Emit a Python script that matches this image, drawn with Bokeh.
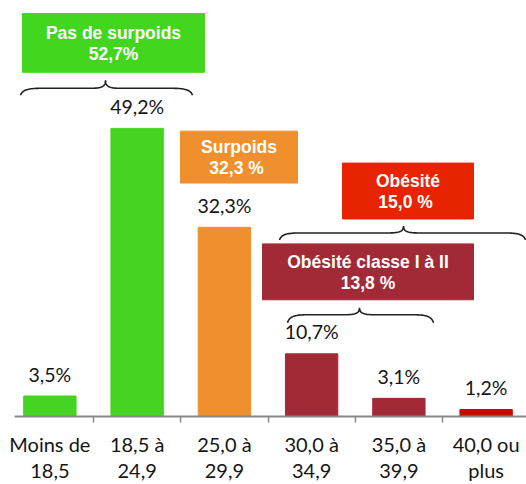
import numpy as np
from bokeh.plotting import figure
from bokeh.models import Range1d, FixedTicker, ColumnDataSource
from bokeh.core.properties import value
from bokeh.embed import file_html
from bokeh.resources import INLINE

# ---------------- data ----------------
categories = ["Moins de\n18,5", "18,5 à\n24,9", "25,0 à\n29,9",
              "30,0 à\n34,9", "35,0 à\n39,9", "40,0 ou\nplus"]
values = [3.5, 49.2, 32.3, 10.7, 3.1, 1.2]
value_labels = ["3,5%", "49,2%", "32,3%", "10,7%", "3,1%", "1,2%"]
group_titles = ["Pas de surpoids", "Surpoids", "Obésité", "Obésité classe I à II"]
group_values = ["52,7%", " 32,3 %", " 15,0 %", "13,8 %"]

# ---------------- styles ----------------
GREEN = "#44D421"
GREEN_BOX = "#43D61E"
ORANGE = "#EF8F2D"
DARKRED = "#A22A36"
RED_BAR = "#C40C00"
RED_BOX = "#E82300"
bar_colors = [GREEN, GREEN, ORANGE, DARKRED, DARKRED, RED_BAR]
box_colors = [GREEN_BOX, ORANGE, RED_BOX, DARKRED]

# ---------------- layout (canvas pixel geometry) ----------------
W, H = 526, 484
TOP_PX = 0              # canvas top
FB = 417                # y of the baseline
SCALE = 5.87            # px per percentage point
CAT_W = 87.25           # px per category
B0 = 93                 # x of the boundary between cat 0 and 1
LEFT_PX, RIGHT_PX = 14, 526

def fx(px):
    return (px - B0) / CAT_W + 0.5

def fy(py):
    return (FB - py) / SCALE

# boxes: (left, right, top, bottom) in px
boxes = [(22, 204, 13, 72), (180, 297, 131, 183), (342, 473, 163, 219), (262, 473, 244, 300)]
# braces: (xl, xr, xpeak, y_end, y_flat, y_peak) in px
braces = [(20, 192, 105, 95, 88, 80), (279, 525, 403, 240, 233, 226), (287, 433, 359, 323, 315, 308)]

p = figure(width=W, height=H, output_backend="svg", toolbar_location=None,
           x_range=Range1d(fx(LEFT_PX), fx(RIGHT_PX)),
           y_range=Range1d(0, fy(TOP_PX)),
           min_border_left=LEFT_PX, min_border_right=0, min_border_top=0,
           min_border_bottom=H - FB, y_axis_location=None)
p.outline_line_color = None
p.xgrid.visible = False
p.ygrid.visible = False
p.background_fill_color = "white"
p.border_fill_color = "white"

idx = list(range(len(values)))
src = ColumnDataSource(dict(x=idx, top=values, color=bar_colors, lab=value_labels))
p.vbar(x="x", top="top", width=0.6, fill_color="color", line_color="color", source=src)
p.text(x="x", y="top", text="lab", source=src, y_offset=-22,
       text_align="center", text_baseline="middle",
       text_font=value("Lato"), text_font_size="19.5px", text_color="#151515")

# axis
ax = p.xaxis[0]
ax.ticker = FixedTicker(ticks=idx, minor_ticks=[i + 0.5 for i in idx[:-1]])
ax.major_label_overrides = {i: c for i, c in zip(idx, categories)}
ax.major_tick_out = 0
ax.major_tick_in = 0
ax.minor_tick_out = 6
ax.minor_tick_in = 0
ax.minor_tick_line_color = "#888888"
ax.minor_tick_line_width = 1.5
ax.axis_line_color = "#888888"
ax.axis_line_width = 1.8
ax.major_label_standoff = 9
ax.major_label_text_font = "Lato"
ax.major_label_text_font_size = "20px"
ax.major_label_text_color = "#151515"
ax.major_label_text_line_height = 1.1

# group boxes
for (l, r, t, b), col, ttl, val in zip(boxes, box_colors, group_titles, group_values):
    p.quad(left=fx(l), right=fx(r), top=fy(t), bottom=fy(b), fill_color=col, line_color=col)
    cx = fx((l + r) / 2)
    cy = fy((t + b) / 2)
    p.text(x=[cx], y=[cy], text=[ttl], y_offset=-10, text_align="center", text_baseline="middle",
           text_font=value("Liberation Sans"), text_font_style="bold", text_font_size="17.5px",
           text_color="white")
    p.text(x=[cx], y=[cy], text=[val], y_offset=11, text_align="center", text_baseline="middle",
           text_font=value("Liberation Sans"), text_font_style="bold", text_font_size="17.5px",
           text_color="white")

# braces
def cubic(p0, p1, p2, p3, n=24):
    t = np.linspace(0, 1, n)[:, None]
    pts = ((1 - t) ** 3) * np.array(p0) + 3 * ((1 - t) ** 2) * t * np.array(p1) \
        + 3 * (1 - t) * t ** 2 * np.array(p2) + t ** 3 * np.array(p3)
    return pts

def brace_path(xl, xr, xp, ye, yf, yp, r=22, r2=16):
    segs = [
        cubic((xl, ye), (xl + 2, yf + 1), (xl + r * 0.4, yf), (xl + r, yf)),
        cubic((xl + r, yf), (xp - r2, yf), (xp - r2, yf), (xp - r2, yf), n=2),
        cubic((xp - r2, yf), (xp - r2 * 0.3, yf), (xp, yf - 1), (xp, yp)),
        cubic((xp, yp), (xp, yf - 1), (xp + r2 * 0.3, yf), (xp + r2, yf)),
        cubic((xp + r2, yf), (xr - r, yf), (xr - r, yf), (xr - r, yf), n=2),
        cubic((xr - r, yf), (xr - r * 0.4, yf), (xr - 2, yf + 1), (xr, ye)),
    ]
    pts = np.vstack(segs)
    return [fx(v) for v in pts[:, 0]], [fy(v) for v in pts[:, 1]]

for br in braces:
    xs, ys = brace_path(*br)
    p.line(xs, ys, line_color="#222222", line_width=1.6)

open("out.html", "w").write(file_html(p, INLINE))
